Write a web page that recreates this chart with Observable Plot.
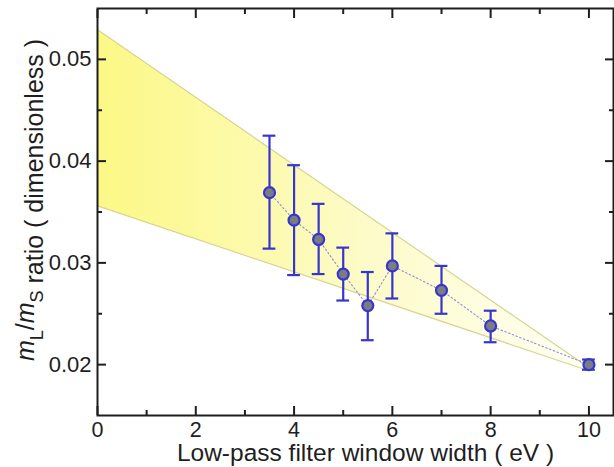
<!DOCTYPE html>
<html>
<head>
<meta charset="utf-8">
<script src="https://cdn.jsdelivr.net/npm/d3@7"></script>
<script src="https://cdn.jsdelivr.net/npm/@observablehq/plot@0.6"></script>
<style>
  html, body { margin: 0; padding: 0; background: #fff; }
  #chart svg { display: block; }
</style>
</head>
<body>
<div id="chart"></div>
<script>
// Measured mass ratio versus low-pass filter window width
const windowWidth = [3.5, 4, 4.5, 5, 5.5, 6, 7, 8, 10];
const ratio       = [0.0369, 0.0342, 0.0323, 0.0289, 0.0258, 0.0297, 0.0273, 0.0238, 0.0200];
const ratioLow    = [0.0314, 0.0288, 0.0289, 0.0263, 0.0224, 0.0265, 0.0250, 0.0222, 0.0195];
const ratioHigh   = [0.0425, 0.0396, 0.0358, 0.0315, 0.0291, 0.0329, 0.0297, 0.0253, 0.0205];

// Extrapolation band (lower / upper bounding lines)
const bandX     = [0, 10];
const bandLower = [0.0356, 0.0194];
const bandUpper = [0.0529, 0.0197];

// Axis ticks
const xTicks      = [0, 2, 4, 6, 8, 10];
const xMinorTicks = [1, 3, 5, 7, 9];
const yTicks      = [0.02, 0.03, 0.04, 0.05];
const yMinorTicks = [0.025, 0.035, 0.045];

const xLabel = "Low-pass filter window width ( eV )";

const points = windowWidth.map((x, i) => ({x, y: ratio[i], lo: ratioLow[i], hi: ratioHigh[i]}));
const band = bandX.map((x, i) => ({x, lo: bandLower[i], hi: bandUpper[i]}));

const capHalf = 0.13; // half-width of error-bar caps, in eV
const ink = "#1e1e1e";
const blue = "#3636cf";

// Horizontal yellow gradient for the band
function gradientDefs() {
  const defs = d3.create("svg:defs");
  const g = defs.append("linearGradient").attr("id", "bandFill")
    .attr("x1", "0").attr("x2", "1").attr("y1", "0").attr("y2", "0");
  g.append("stop").attr("offset", "0").attr("stop-color", "#fcf886");
  g.append("stop").attr("offset", "0.55").attr("stop-color", "#fdfbc8");
  g.append("stop").attr("offset", "1").attr("stop-color", "#fffff4");
  return defs.node();
}

// Rotated y-axis title with italic symbols and subscripts
function yTitle() {
  const t = d3.create("svg:text")
    .attr("transform", "translate(43,200) rotate(-90)")
    .attr("text-anchor", "middle")
    .attr("font-size", 25)
    .attr("fill", ink);
  t.append("tspan").attr("font-style", "italic").attr("dy", "-0.35em").text("m");
  t.append("tspan").attr("font-size", "0.72em").attr("dy", "0.49em").text("L");
  t.append("tspan").attr("dy", "-0.35em").text("/");
  t.append("tspan").attr("font-style", "italic").text("m");
  t.append("tspan").attr("font-size", "0.72em").attr("dy", "0.49em").text("S");
  t.append("tspan").attr("dy", "0em").text(" ratio ( dimensionless )");
  return t.node();
}

const tickStyle = {fill: "none", stroke: ink, strokeWidth: 2, label: null};

const chart = Plot.plot({
  width: 614,
  height: 467,
  marginLeft: 97,
  marginRight: 1,
  marginTop: 8,
  marginBottom: 52,
  style: {fontFamily: "'Liberation Sans', Arial, Helvetica, sans-serif", color: ink, background: "#fff"},
  x: {domain: [0, 10.5]},
  y: {domain: [0.015, 0.055]},
  marks: [
    gradientDefs,
    Plot.areaY(band, {x: "x", y1: "lo", y2: "hi", fill: "url(#bandFill)"}),
    Plot.line(band, {x: "x", y: "hi", stroke: "#d6d692", strokeWidth: 1.2}),
    Plot.line(band, {x: "x", y: "lo", stroke: "#d6d692", strokeWidth: 1.2}),
    Plot.line(points, {x: "x", y: "y", stroke: "#8d8dd6", strokeWidth: 1.1, strokeDasharray: "1.5,2.5"}),
    Plot.ruleX(points, {x: "x", y1: "lo", y2: "hi", stroke: blue, strokeWidth: 2.2}),
    Plot.ruleY(points, {y: "lo", x1: d => d.x - capHalf, x2: d => d.x + capHalf, stroke: blue, strokeWidth: 2.2}),
    Plot.ruleY(points, {y: "hi", x1: d => d.x - capHalf, x2: d => d.x + capHalf, stroke: blue, strokeWidth: 2.2}),
    Plot.dot(points, {x: "x", y: "y", r: 5.5, fill: "#7b7b86", stroke: blue, strokeWidth: 2.2}),
    Plot.frame({stroke: ink, strokeWidth: 2}),
    // inward ticks on all four sides
    Plot.axisX(xTicks, {anchor: "bottom", tickSize: -9, ...tickStyle}),
    Plot.axisX(xMinorTicks, {anchor: "bottom", tickSize: -5, ...tickStyle}),
    Plot.axisX(xTicks, {anchor: "top", tickSize: -9, ...tickStyle}),
    Plot.axisX(xMinorTicks, {anchor: "top", tickSize: -5, ...tickStyle}),
    Plot.axisY(yTicks, {anchor: "left", tickSize: -9, ...tickStyle}),
    Plot.axisY(yMinorTicks, {anchor: "left", tickSize: -5, ...tickStyle}),
    Plot.axisY(yTicks, {anchor: "right", tickSize: -9, ...tickStyle}),
    Plot.axisY(yMinorTicks, {anchor: "right", tickSize: -5, ...tickStyle}),
    // tick labels
    Plot.axisX(xTicks, {anchor: "bottom", tickSize: 0, tickPadding: 6, fontSize: 21.5, label: null, fill: ink}),
    Plot.axisY(yTicks, {anchor: "left", tickSize: 0, tickPadding: 6, fontSize: 22, label: null, fill: ink,
                        tickFormat: d3.format(".2f")}),
    // axis titles
    Plot.text([xLabel], {frameAnchor: "bottom", text: d => d, dx: 10, dy: 45, lineAnchor: "bottom",
                         fontSize: 24.5, fill: ink}),
    yTitle
  ]
});

document.getElementById("chart").append(chart);
</script>
</body>
</html>
